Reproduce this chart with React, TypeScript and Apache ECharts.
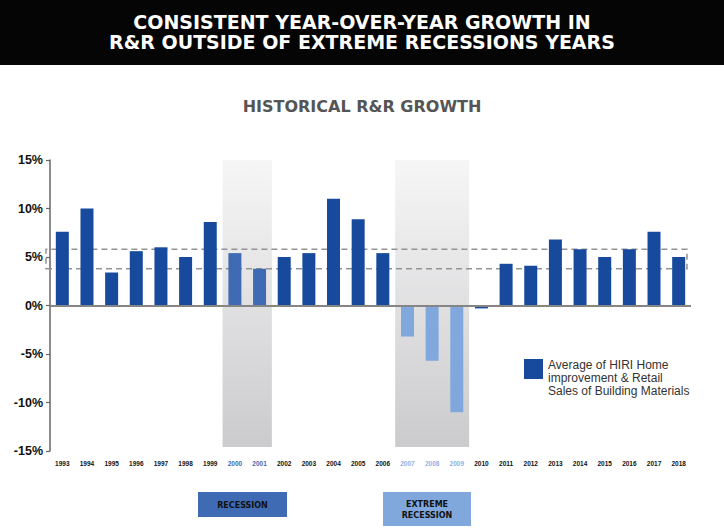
import React, { useEffect, useRef } from "react";
import * as echarts from "echarts";

const years = ["1993","1994","1995","1996","1997","1998","1999","2000","2001","2002","2003","2004","2005","2006","2007","2008","2009","2010","2011","2012","2013","2014","2015","2016","2017","2018"];
const growth = [7.6, 10.0, 3.4, 5.6, 6.0, 5.0, 8.6, 5.4, 3.8, 5.0, 5.4, 11.0, 8.9, 5.4, -3.2, -5.7, -11.0, -0.3, 4.3, 4.1, 6.8, 5.8, 5.0, 5.8, 7.6, 5.0];
const recessionYears = ["2000", "2001"];
const extremeYears = ["2007", "2008", "2009"];
const yTicks = { min: -15, max: 15, interval: 5 };
const normalBand = [3.8, 5.8];
const seriesName = "Average of HIRI Home\nimprovement & Retail\nSales of Building Materials";

const DARK = "#174a9c";
const MID = "#3e6bb4";
const LIGHT = "#80a8dc";

function colorFor(y: string) {
  if (recessionYears.includes(y)) return MID;
  if (extremeYears.includes(y)) return LIGHT;
  return DARK;
}
function labelColorFor(y: string) {
  if (recessionYears.includes(y)) return "#3e6bb4";
  if (extremeYears.includes(y)) return "#8fb2e2";
  return "#111";
}

export default function App() {
  const ref = useRef<HTMLDivElement>(null);
  useEffect(() => {
    if (!ref.current) return;
    const chart = echarts.init(ref.current, null, { renderer: "svg" });
    const shadeGradient = new echarts.graphic.LinearGradient(0, 0, 0, 1, [
      { offset: 0, color: "#f6f6f7" },
      { offset: 1, color: "#cbcbcd" },
    ]);
    const firstIdx = (arr: string[]) => years.indexOf(arr[0]);
    const lastIdx = (arr: string[]) => years.indexOf(arr[arr.length - 1]) + 1;
    chart.setOption({
      animation: false,
      grid: { left: 50, right: 33, top: 160, bottom: 77, containLabel: false },
      legend: {
        left: 524,
        top: 349,
        padding: 0,
        orient: "vertical",
        itemWidth: 19,
        itemHeight: 20,
        icon: "rect",
        selectedMode: false,
        data: [seriesName],
        formatter: (name: string) =>
          "{s| }\n" + name.split("\n").map((l) => "{a|" + l + "}").join("\n"),
        textStyle: {
          color: "#333",
          fontFamily: "Liberation Sans",
          rich: {
            s: { fontSize: 1, lineHeight: 17 },
            a: { fontSize: 12, lineHeight: 13, color: "#333", fontFamily: "Liberation Sans" },
          },
        },
      },
      xAxis: [
        {
          type: "category",
          data: years.map((y) => ({ value: y, textStyle: { color: labelColorFor(y) } })),
          position: "bottom",
          axisLine: { show: false, onZero: false },
          axisTick: { show: false },
          axisLabel: { interval: 0, margin: 9, fontSize: 6.5, fontWeight: "bold", fontFamily: "Liberation Sans" },
        },
        { type: "value", min: 0, max: years.length, show: false },
      ],
      yAxis: {
        type: "value",
        min: yTicks.min,
        max: yTicks.max,
        interval: yTicks.interval,
        splitLine: { show: false },
        axisLine: { show: true, lineStyle: { color: "#666", width: 1.5 } },
        axisTick: { show: true, length: 4, lineStyle: { color: "#666", width: 1.2 } },
        axisLabel: {
          formatter: "{value}%",
          fontSize: 12.5,
          fontWeight: "bold",
          color: "#111",
          margin: 7,
          fontFamily: "Liberation Sans",
        },
      },
      series: [
        {
          type: "scatter",
          xAxisIndex: 1,
          data: [],
          z: 1,
          silent: true,
          markArea: {
            silent: true,
            itemStyle: { color: shadeGradient },
            data: [
              [{ xAxis: firstIdx(recessionYears), yAxis: 15 }, { xAxis: lastIdx(recessionYears), yAxis: -14.6 }],
              [{ xAxis: firstIdx(extremeYears), yAxis: 15 }, { xAxis: lastIdx(extremeYears), yAxis: -14.6 }],
            ],
          },
        },
        {
          name: seriesName,
          type: "bar",
          z: 3,
          barWidth: 13,
          itemStyle: { color: DARK },
          data: growth.map((v, i) => ({ value: v, itemStyle: { color: colorFor(years[i]) } })),
          markLine: {
            silent: true,
            symbol: "none",
            label: { show: false },
            lineStyle: { color: "#858585", width: 2, type: "solid" },
            data: [{ yAxis: 0 }],
          },
          markArea: {
            silent: true,
            itemStyle: { color: "rgba(0,0,0,0)", borderColor: "#939393", borderWidth: 1.5, borderType: [6, 4] },
            data: [[{ x: 46, yAxis: normalBand[1] }, { x: 687, yAxis: normalBand[0] }]],
          },
        },
      ],
      graphic: [
        { type: "rect", left: 0, top: 0, shape: { width: 724, height: 65 }, style: { fill: "#050505" }, z: 10 },
        {
          type: "text",
          x: 362,
          y: 32,
          z: 11,
          style: {
            text: "CONSISTENT YEAR-OVER-YEAR GROWTH IN\nR&R OUTSIDE OF EXTREME RECESSIONS YEARS",
            fill: "#fff",
            font: "bold 19px 'DejaVu Sans'",
            align: "center",
            verticalAlign: "middle",
            lineHeight: 20,
          },
        },
        {
          type: "text",
          x: 362,
          y: 106,
          z: 11,
          style: {
            text: "HISTORICAL R&R GROWTH",
            fill: "#555",
            font: "bold 16px 'DejaVu Sans'",
            align: "center",
            verticalAlign: "middle",
          },
        },
        { type: "rect", left: 198, top: 492, shape: { width: 89, height: 25 }, style: { fill: MID }, z: 10 },
        {
          type: "text",
          x: 242.5,
          y: 505,
          z: 11,
          style: { text: "RECESSION", fill: "#111", font: "bold 8px 'DejaVu Sans'", align: "center", verticalAlign: "middle" },
        },
        { type: "rect", left: 383, top: 492, shape: { width: 88, height: 34 }, style: { fill: LIGHT }, z: 10 },
        {
          type: "text",
          x: 427,
          y: 509.5,
          z: 11,
          style: {
            text: "EXTREME\nRECESSION",
            fill: "#111",
            font: "bold 8px 'DejaVu Sans'",
            align: "center",
            verticalAlign: "middle",
            lineHeight: 11,
          },
        },
      ],
    });
    return () => chart.dispose();
  }, []);
  return (
    <div
      ref={ref}
      style={{ position: "fixed", left: 0, top: 0, width: 724, height: 528, background: "#fff" }}
    />
  );
}
